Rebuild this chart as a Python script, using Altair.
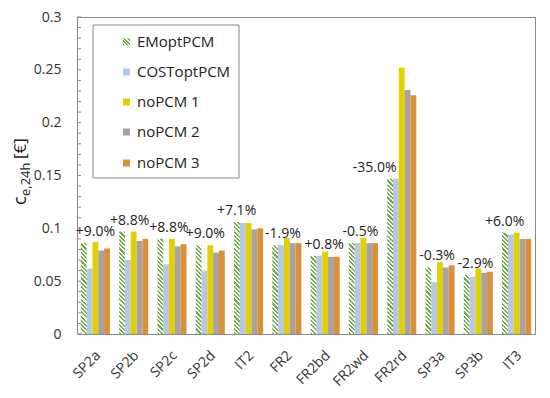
import math
import altair as alt
import pandas as pd

cats = ["SP2a", "SP2b", "SP2c", "SP2d", "IT2", "FR2", "FR2bd", "FR2wd", "FR2rd", "SP3a", "SP3b", "IT3"]
series = ["EMoptPCM", "COSToptPCM", "noPCM 1", "noPCM 2", "noPCM 3"]
em = [0.086, 0.097, 0.090, 0.084, 0.106, 0.084, 0.074, 0.086, 0.147, 0.063, 0.056, 0.096]
cost = [0.062, 0.070, 0.066, 0.060, 0.105, 0.084, 0.074, 0.086, 0.147, 0.049, 0.054, 0.094]
nopcm1 = [0.087, 0.097, 0.090, 0.084, 0.105, 0.091, 0.078, 0.091, 0.252, 0.068, 0.062, 0.096]
nopcm2 = [0.079, 0.088, 0.083, 0.077, 0.099, 0.086, 0.073, 0.086, 0.231, 0.063, 0.058, 0.090]
nopcm3 = [0.081, 0.090, 0.085, 0.079, 0.100, 0.086, 0.073, 0.086, 0.226, 0.065, 0.059, 0.090]
pct = ["+9.0%", "+8.8%", "+8.8%", "+9.0%", "+7.1%", "-1.9%", "+0.8%", "-0.5%", "-35.0%", "-0.3%", "-2.9%", "+6.0%"]
y_ticks = [0, 0.05, 0.1, 0.15, 0.2, 0.25, 0.3]
minor_ticks = [i / 100 for i in range(31)]

# horizontal nudges of the percentage labels (style)
label_dx = [0, -4, -3, -5, -12, -4, -1, -3, -27, -3, -3, -12]

colors = ["#FFFFFF", "#B8C6E8", "#E2D000", "#A8A3A3", "#DB9038"]
FONT = "Open Sans"
W, H = 458, 317
YMAX = 0.3
BAR_W = W / (len(cats) - 0.24 + 0.2) * 0.76 / len(series)

rows = []
for i, c in enumerate(cats):
    for s, vals in zip(series, [em, cost, nopcm1, nopcm2, nopcm3]):
        rows.append({"cat": c, "series": s, "value": vals[i]})
df = pd.DataFrame(rows)

x_scale = alt.Scale(domain=cats, paddingInner=0.24, paddingOuter=0.1)
xo_scale = alt.Scale(domain=series, paddingInner=0, paddingOuter=0)
y_scale = alt.Scale(domain=[0, YMAX], nice=False, zero=True)
x_axis = alt.Axis(labelAngle=-45, labelAlign="right", labelBaseline="middle",
                  labelPadding=19, labelOffset=3, ticks=False, domain=False, labelFontSize=14,
                  labelFont=FONT, labelColor="#333333", title=None)
y_axis = alt.Axis(values=y_ticks, format="~g", ticks=False, domain=False, grid=False,
                  labelPadding=16, labelFontSize=14, labelFont=FONT, labelColor="#333333",
                  title=None)


def X(field):
    return alt.X(field, scale=x_scale, sort=cats, axis=x_axis, title=None)


def Y(field):
    return alt.Y(field, scale=y_scale, axis=y_axis, title=None)


def hatch(w, h, period=3.0, frac=0.5, c1="#6FAE45", c2="#FFFFFF"):
    c = (w + h) / (w * w + h * h)
    n = (w + h) / math.sqrt(2) / period
    stops = []
    k = 0
    while k < n:
        a = k / n
        b = min((k + frac) / n, 1)
        d = min((k + 1) / n, 1)
        stops += [alt.GradientStop(offset=a, color=c1), alt.GradientStop(offset=b, color=c1),
                  alt.GradientStop(offset=b, color=c2), alt.GradientStop(offset=d, color=c2)]
        k += 1
    return alt.LinearGradient(gradient="linear", stops=stops, x1=0, y1=1, x2=c * w, y2=1 - c * h)


bars = alt.Chart(df).mark_bar().encode(
    x=X("cat:N"),
    xOffset=alt.XOffset("series:N", scale=xo_scale, sort=series),
    y=Y("value:Q"),
    color=alt.Color("series:N", scale=alt.Scale(domain=series, range=colors), legend=None),
)

layers = [bars]
for i, c in enumerate(cats):
    h = em[i] / YMAX * H
    d = pd.DataFrame({"cat": [c], "series": [series[0]], "value": [em[i]]})
    layers.append(alt.Chart(d).mark_bar(fill=hatch(BAR_W, h)).encode(
        x=X("cat:N"),
        xOffset=alt.XOffset("series:N", scale=xo_scale, sort=series),
        y=Y("value:Q"),
    ))

for i, c in enumerate(cats):
    d = pd.DataFrame({"cat": [c], "value": [em[i]], "pct": [pct[i]]})
    layers.append(alt.Chart(d).mark_text(baseline="bottom", dy=-4, dx=label_dx[i], fontSize=14,
                                         font=FONT, color="#222222").encode(
        x=X("cat:N"),
        y=Y("value:Q"),
        text="pct:N",
    ))

tick_df = pd.DataFrame({"value": minor_ticks})
ticks = alt.Chart(tick_df).mark_rule(color="#8a8a8a", strokeWidth=1).encode(
    x=alt.value(0), x2=alt.value(4), y=Y("value:Q"))
layers.append(ticks)

one = pd.DataFrame({"a": [0]})
# legend
layers.append(alt.Chart(one).mark_rect(fill="white", stroke="#8a8a8a", strokeWidth=1).encode(
    x=alt.value(16), x2=alt.value(162), y=alt.value(8), y2=alt.value(161)))
leg_y = [25, 55, 85, 115, 146]
for j, s in enumerate(series):
    if j == 0:
        mk = alt.Chart(one).mark_rect(fill=hatch(7, 7, period=2.6))
    else:
        mk = alt.Chart(one).mark_rect(fill=colors[j])
    layers.append(mk.encode(x=alt.value(46), x2=alt.value(53), y=alt.value(leg_y[j] - 3.5),
                            y2=alt.value(leg_y[j] + 3.5)))
    layers.append(alt.Chart(one).mark_text(text=s, align="left", baseline="middle", fontSize=15,
                                           font=FONT, color="#222222").encode(
        x=alt.value(60), y=alt.value(leg_y[j])))

# y title with subscript
layers.append(alt.Chart(one).mark_text(text="c", angle=270, align="left", baseline="alphabetic",
                                       fontSize=18, font=FONT, color="#222222").encode(
    x=alt.value(-51), y=alt.value(188)))
layers.append(alt.Chart(one).mark_text(text="e,24h", angle=270, align="left", baseline="alphabetic",
                                       fontSize=13, font=FONT, color="#222222").encode(
    x=alt.value(-47), y=alt.value(179)))
layers.append(alt.Chart(one).mark_text(text="[€]", angle=270, align="left", baseline="alphabetic",
                                       fontSize=17, font=FONT, color="#222222").encode(
    x=alt.value(-51), y=alt.value(142)))

chart = alt.layer(*layers).properties(
    width=W, height=H,
    autosize=alt.AutoSizeParams(type="none"),
    padding={"left": 69, "top": 9, "right": 7, "bottom": 56},
).configure_view(stroke="#8a8a8a", strokeWidth=1)

chart.save("out.html", embed_options={"renderer": "svg", "actions": False})
